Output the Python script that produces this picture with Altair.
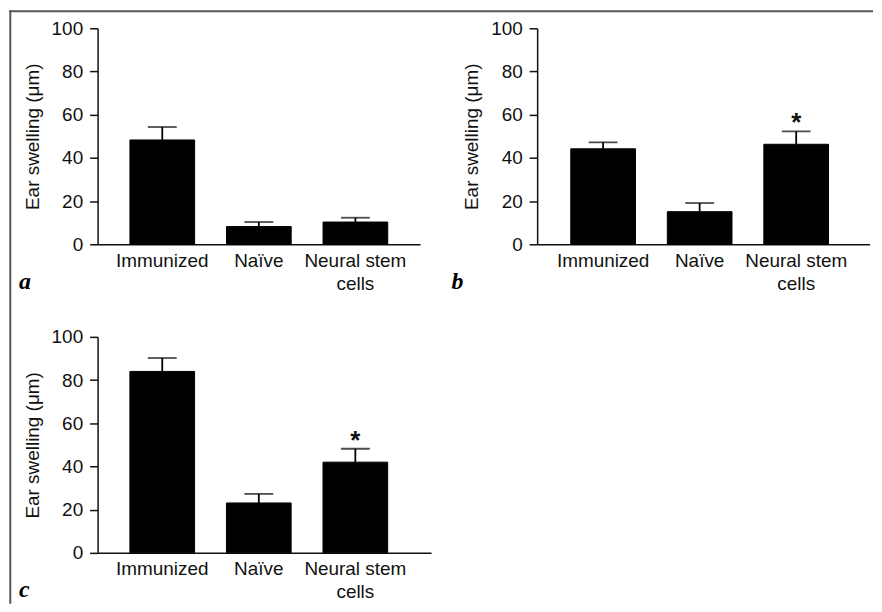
import altair as alt
import pandas as pd

categories = ["Immunized", "Naïve", "Neural stem cells"]

a_means = [48.3, 8.2, 10.3]
a_tops = [54.3, 10.3, 12.3]
a_stars = ["", "", ""]

b_means = [44.2, 15.1, 46.3]
b_tops = [47.2, 19.1, 52.3]
b_stars = ["", "", "*"]

c_means = [84.0, 23.1, 42.0]
c_tops = [90.2, 27.3, 48.2]
c_stars = ["", "", "*"]

y_ticks = [0, 20, 40, 60, 80, 100]
y_title = "Ear swelling (μm)"

FONT = "Liberation Sans"
INK = "#111111"
H = 217


def panel(means, tops, stars, letter, width, pad_outer, align, letter_x, letter_y, border=False):
    df = pd.DataFrame({"group": categories, "mean": means, "top": tops, "star": stars})
    base = alt.Chart(df)
    x = alt.X(
        "group:N",
        sort=categories,
        scale=alt.Scale(paddingInner=0.33, paddingOuter=pad_outer, align=align),
        axis=alt.Axis(
            title=None,
            labelAngle=0,
            ticks=False,
            labelPadding=7,
            labelFontSize=19,
            labelFont=FONT,
            labelColor=INK,
            labelLineHeight=23,
            labelExpr="datum.label == 'Neural stem cells' ? ['Neural stem', 'cells'] : datum.label",
            domainColor=INK,
            domainWidth=1.5,
        ),
    )
    y_scale = alt.Scale(domain=[0, 100], nice=False)
    y = alt.Y(
        "mean:Q",
        scale=y_scale,
        axis=alt.Axis(
            values=y_ticks,
            title=y_title,
            titleFont=FONT,
            titleFontSize=19,
            titleFontWeight="normal",
            titleColor=INK,
            titlePadding=9,
            grid=False,
            tickSize=8,
            tickWidth=1.5,
            tickColor=INK,
            labelPadding=7,
            labelFontSize=19,
            labelFont=FONT,
            labelColor=INK,
            domainColor=INK,
            domainWidth=1.5,
        ),
    )
    bars = base.mark_bar(color="black", stroke="black", strokeWidth=1).encode(x=x, y=y)
    err = base.mark_rule(color="black", strokeWidth=1.8).encode(x=x, y=alt.Y("mean:Q", scale=y_scale), y2="top:Q")
    cap = base.mark_tick(orient="horizontal", size=29, thickness=1.8, color="black").encode(
        x=x, y=alt.Y("top:Q", scale=y_scale)
    )
    star = base.mark_text(font=FONT, fontSize=26, fontWeight="bold", color=INK, baseline="alphabetic", dy=0).encode(
        x=x, y=alt.Y("top:Q", scale=y_scale), text="star:N"
    )
    lab = alt.Chart(pd.DataFrame({"l": [letter]})).mark_text(
        font="Liberation Serif", fontStyle="italic", fontWeight="bold", fontSize=24,
        color="black", align="left", baseline="alphabetic",
    ).encode(x=alt.value(letter_x), y=alt.value(letter_y), text="l:N")
    layers = [bars, err, cap, star, lab]
    if border:
        one = alt.Chart(pd.DataFrame({"k": [0]}))
        left_line = one.mark_rule(color="#555555", strokeWidth=2).encode(
            x=alt.value(-87.7), y=alt.value(-18), y2=alt.value(578)
        )
        top_line = one.mark_rule(color="#555555", strokeWidth=2).encode(
            x=alt.value(-88.7), x2=alt.value(779), y=alt.value(-17)
        )
        layers = [left_line, top_line] + layers
    return alt.layer(*layers).properties(width=width, height=H)


pa = panel(a_means, a_tops, a_stars, "a", 324, 0.335, 0.5, -79, 262, border=True)
pb = panel(b_means, b_tops, b_stars, "b", 334, 0.387, 0.45, -86, 262)
pc = panel(c_means, c_tops, c_stars, "c", 335, 0.392, 0.427, -79, 261)

chart = alt.concat(pa, pb, pc, columns=2, spacing={"row": 93, "column": 106.6}, bounds="flush").properties(
    padding=0, background="white"
).configure_view(strokeWidth=0)

chart.save("out.html", embed_options={"renderer": "svg", "actions": False})
